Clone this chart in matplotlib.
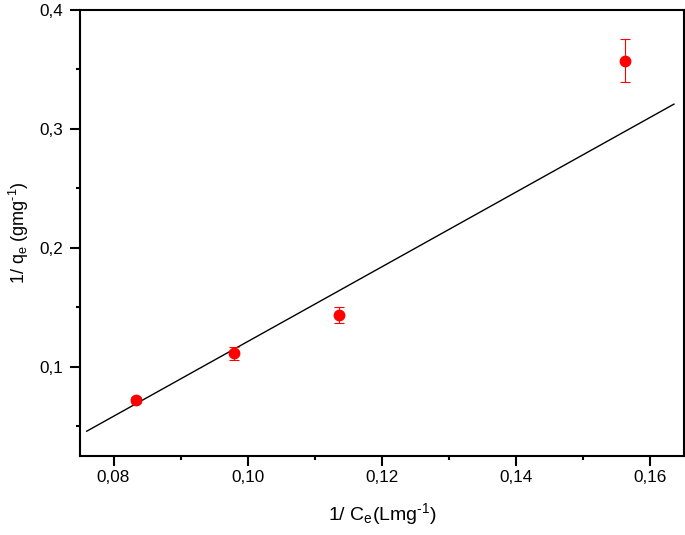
import matplotlib
matplotlib.use("Agg")
import matplotlib.pyplot as plt
from matplotlib.ticker import MultipleLocator, FuncFormatter

# Data
x_vals = [0.0833, 0.0980, 0.1136, 0.1562]
y_vals = [0.0720, 0.1112, 0.1432, 0.3572]
y_err = [0.0025, 0.0056, 0.0069, 0.0180]

# Fitted line endpoints
line_x = [0.0760, 0.1635]
line_y = [0.0456, 0.3208]

plt.rcParams['font.family'] = ['Liberation Sans', 'DejaVu Sans']
plt.rcParams['mathtext.fontset'] = 'custom'
plt.rcParams['mathtext.rm'] = 'Liberation Sans'
plt.rcParams['mathtext.it'] = 'Liberation Sans'
plt.rcParams['mathtext.default'] = 'regular'

fig = plt.figure(figsize=(6.85, 5.35), dpi=100)
ax = fig.add_axes([80/685, 1-455.7/535, (684-80)/685, (455.7-10)/535])

ax.plot(line_x, line_y, color='black', lw=1.0, zorder=2)
ax.errorbar(x_vals, y_vals, yerr=y_err, fmt='o', color='red', ecolor='red',
            markersize=7.5, elinewidth=0.8, capsize=3.4, capthick=0.8, zorder=3)

ax.set_xlim(0.075, 0.165)
ax.set_ylim(0.025, 0.4)

ax.xaxis.set_major_locator(MultipleLocator(0.02))
ax.xaxis.set_minor_locator(MultipleLocator(0.01))
ax.yaxis.set_major_locator(MultipleLocator(0.1))
ax.yaxis.set_minor_locator(MultipleLocator(0.05))

ax.xaxis.set_major_formatter(FuncFormatter(lambda v, p: f"{v:.2f}".replace('.', ',')))
ax.yaxis.set_major_formatter(FuncFormatter(lambda v, p: f"{v:.1f}".replace('.', ',')))

for s in ax.spines.values():
    s.set_linewidth(1.5)

ax.tick_params(which='major', direction='out', length=7, width=1.5, labelsize=12.3)
ax.tick_params(axis='x', which='major', pad=3.5)
ax.tick_params(axis='y', which='major', pad=5)
ax.tick_params(which='minor', direction='out', length=3, width=1.5)
ax.tick_params(top=False, right=False)

ax.set_xlabel(r'1/ C$_{e}$(Lmg$^{\text{-}1}$)', fontsize=14, labelpad=11.5)
ax.set_ylabel(r'1/ q$_{e}$ (gmg$^{\text{-}1}$)', fontsize=13, labelpad=6.5)

fig.savefig('out.png', dpi=100)
